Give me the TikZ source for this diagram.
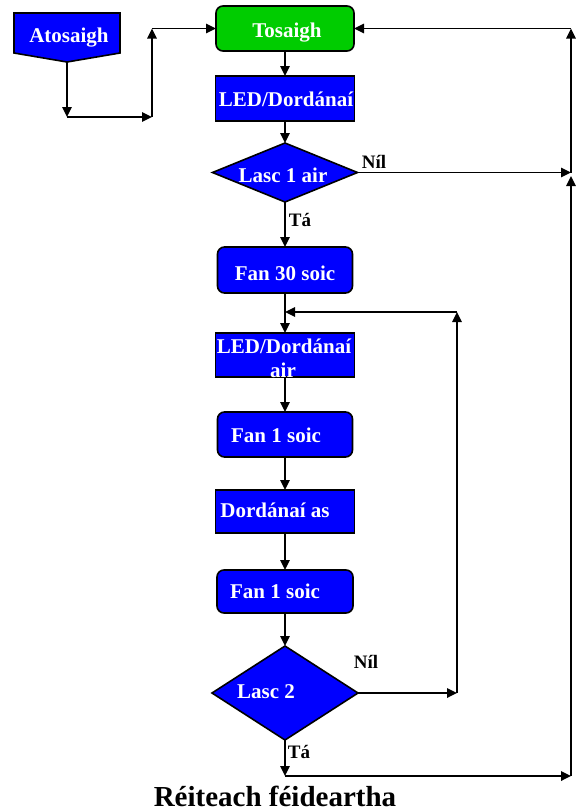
\documentclass[tikz,border=0pt]{standalone}
\usepackage{fontspec}
\setmainfont{Liberation Serif}
\usetikzlibrary{arrows.meta,shapes.geometric}
\definecolor{boxblue}{RGB}{0,0,255}
\definecolor{boxgreen}{RGB}{0,204,0}
\begin{document}
\begin{tikzpicture}[x=1pt,y=-1pt,
  every node/.style={inner sep=0pt,outer sep=0pt},
  base/.style={draw=black,line width=1.6pt,minimum width=#1},
  rectbox/.style={base=#1,rectangle,fill=boxblue,minimum height=44pt},
  roundbox/.style={base=#1,rectangle,rounded corners=7pt,fill=boxblue,minimum height=45pt},
  decision/.style={draw=black,line width=1.6pt,fill=boxblue,diamond,aspect=2},
  btxt/.style={anchor=base,text=white,font=\fontsize{21}{24}\selectfont\bfseries},
  lbl/.style={anchor=base,text=black,font=\fontsize{19}{22}\selectfont\bfseries},
  conn/.style={line width=1.7pt,-{Triangle[length=10pt,width=9.5pt]}},
  plain/.style={line width=1.7pt}
]
\useasboundingbox (0,0) rectangle (582,812);

% off-page connector
\filldraw[fill=boxblue,draw=black,line width=1.6pt] (14,13) -- (120,13) -- (120,53) -- (67,62) -- (14,53) -- cycle;
\node[btxt] (tato) at (69,42) {Atosaigh};
\coordinate (atop) at (67,62);

% boxes
\node[roundbox=138pt,fill=boxgreen] (tos) at (285,28.5) {};
\node[rectbox=139pt,minimum height=45pt] (led1) at (285,98.5) {};
\node[decision,minimum width=145pt,minimum height=59pt,inner sep=0pt] (d1) at (285,172.5) {};
\node[roundbox=135pt,minimum height=46pt] (f30) at (285,270) {};
\node[rectbox=139pt] (led2) at (285,355) {};
\node[roundbox=135pt] (f1a) at (285,434.5) {};
\node[rectbox=139pt,minimum height=43pt] (das) at (285,511.5) {};
\node[roundbox=136pt,minimum height=43pt] (f1b) at (285,591.5) {};
\node[decision,minimum width=146pt,minimum height=94pt] (d2) at (285,693) {};

% box texts
\node[btxt] (ttos) at (287,37) {Tosaigh};
\node[btxt] (tled1) at (286,106) {LED/Dordánaí};
\node[btxt] (td1) at (283,182) {Lasc 1 air};
\node[btxt] (tf30) at (285,280) {Fan 30 soic};
\node[btxt] (tled2a) at (284,353) {LED/Dordánaí};
\node[btxt] (tled2b) at (283,377) {air};
\node[btxt] (tf1a) at (276,442) {Fan 1 soic};
\node[btxt] (tdas) at (275,517) {Dordánaí as};
\node[btxt] (tf1b) at (275,598) {Fan 1 soic};
\node[btxt] (td2) at (266,698) {Lasc 2};

% labels
\node[lbl] (nil1) at (374,168) {Níl};
\node[lbl] (ta1) at (300,226) {Tá};
\node[lbl] (nil2) at (366,668) {Níl};
\node[lbl] (ta2) at (299,758) {Tá};
\node[anchor=base,font=\fontsize{29}{32}\selectfont\bfseries] (title) at (275,806) {Réiteach féideartha};

% helper coordinates
\coordinate (c9) at (67,117);
\coordinate (c10) at (152,117);
\coordinate (c11) at (152,28.5);
\coordinate (j1) at (285,312);
\coordinate (c2) at (457,693);
\coordinate (c3) at (457,312);
\coordinate (c4) at (285,776);
\coordinate (c5) at (571,776);
\coordinate (c6) at (571,176);
\coordinate (c7) at (571,172.5);
\coordinate (c8) at (571,28.5);

% main flow
\draw[conn] (tos) -- (led1);
\draw[conn] (led1) -- (d1);
\draw[conn] (d1) -- (f30);
\draw[conn] (f30) -- (led2);
\draw[conn] (led2) -- (f1a);
\draw[conn] (f1a) -- (das);
\draw[conn] (das) -- (f1b);
\draw[conn] (f1b) -- (d2);

% left entry
\draw[conn] (atop) -- (c9);
\draw[conn] (c9) -- (c10);
\draw[conn] (c10) -- (c11);
\draw[conn] (c11) -- (tos);

% inner loop
\draw[conn] (d2.east) -- (c2);
\draw[conn] (c2) -- (c3);
\draw[conn] (c3) -- (j1);

% outer loop
\draw[conn] (d2.south) -- (c4);
\draw[conn] (c4) -- (c5);
\draw[conn] (c5) -- (c6);
\draw[conn] (d1.east) -- (c7);
\draw[conn] (c7) -- (c8);
\draw[conn] (c8) -- (tos.east);
\end{tikzpicture}
\end{document}
